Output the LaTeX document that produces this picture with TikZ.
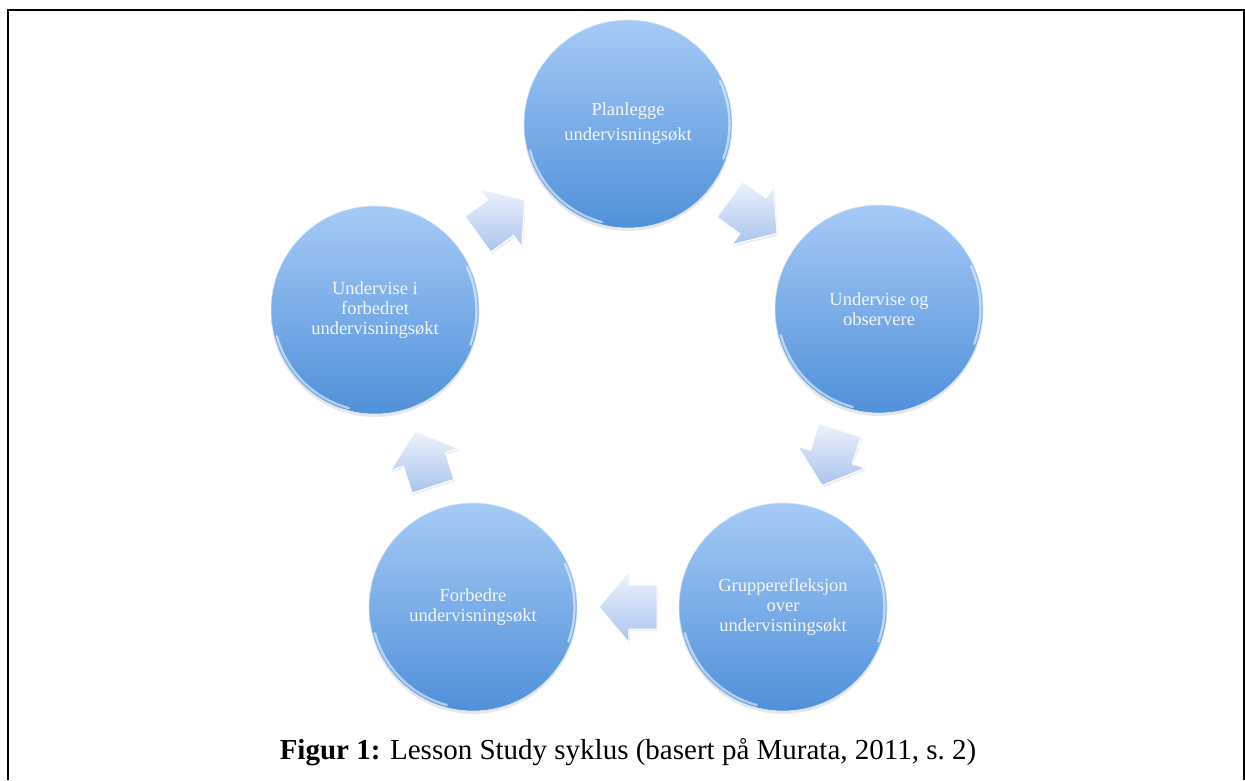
\documentclass[tikz,border=0pt]{standalone}
\usepackage{fontspec}
\setmainfont{Liberation Serif}
\usetikzlibrary{shapes.arrows,calc,shadows}

\definecolor{ballTop}{RGB}{166,202,245}
\definecolor{ballBot}{RGB}{80,144,218}
\definecolor{ballText}{RGB}{242,246,252}
\definecolor{arrTop}{RGB}{236,242,252}
\definecolor{arrBot}{RGB}{170,195,236}

\begin{document}
\begin{tikzpicture}[x=1pt,y=1pt,
	ball/.style={circle, minimum size=208pt, inner sep=0pt, top color=ballTop, bottom color=ballBot,
		draw=ballTop!50!white, line width=0.6pt, text=ballText, align=center,
		font=\fontsize{18.5}{20}\selectfont,
		drop shadow={opacity=0.18, shadow xshift=0pt, shadow yshift=-3pt}},
	blockarrow/.style={single arrow, minimum height=58pt, inner xsep=0pt, inner ysep=21.5pt,
		single arrow head extend=13.5pt, single arrow tip angle=100,
		top color=arrTop, bottom color=arrBot, draw=white, line width=1pt,
		drop shadow={opacity=0.15, shadow xshift=1pt, shadow yshift=-2pt}},
	rim/.style={white, line width=2.4pt, opacity=0.55, line cap=round}]
			\useasboundingbox (0,0) rectangle (1245,780);
			\draw [black, line width=2pt] (7.5,0) -- (7.5,769.5) -- (1243.5,769.5) -- (1243.5,0);
			\node [ball] (plan) at (628,656) {Planlegge\\[5pt]undervisningsøkt};
			\node [ball] (obs) at (879,471) {Undervise og\\observere};
			\node [ball] (refl) at (783,173) {Gruppe\-refleksjon\\over\\undervisningsøkt};
			\node [ball] (forb) at (473,173) {Forbedre\\undervisningsøkt};
			\node [ball] (underv) at (375,470) {Undervise i\\forbedret\\undervisningsøkt};
			\foreach \n in {plan,obs,refl,forb,underv} {
				\draw [rim] ($(\n.center)+(195:101.5)$) arc [start angle=195, end angle=255, radius=101.5];
				\draw [rim] ($(\n.center)+(-20:101.5)$) arc [start angle=-20, end angle=25, radius=101.5];
			}
			\foreach \a/\b/\r/\nm in {underv/plan/36/a1, plan/obs/-36/a2, obs/refl/-108/a3,
				refl/forb/180/a4, forb/underv/108/a5}
				\node [blockarrow, rotate=\r] (\nm) at ($(\a)!0.47!(\b)$) {};
			\node [font=\fontsize{29}{33}\selectfont, anchor=base] (cap) at (628,21)
				{\textbf{Figur 1:} Lesson Study syklus (basert på Murata, 2011, s.~2)};
\end{tikzpicture}
\end{document}
